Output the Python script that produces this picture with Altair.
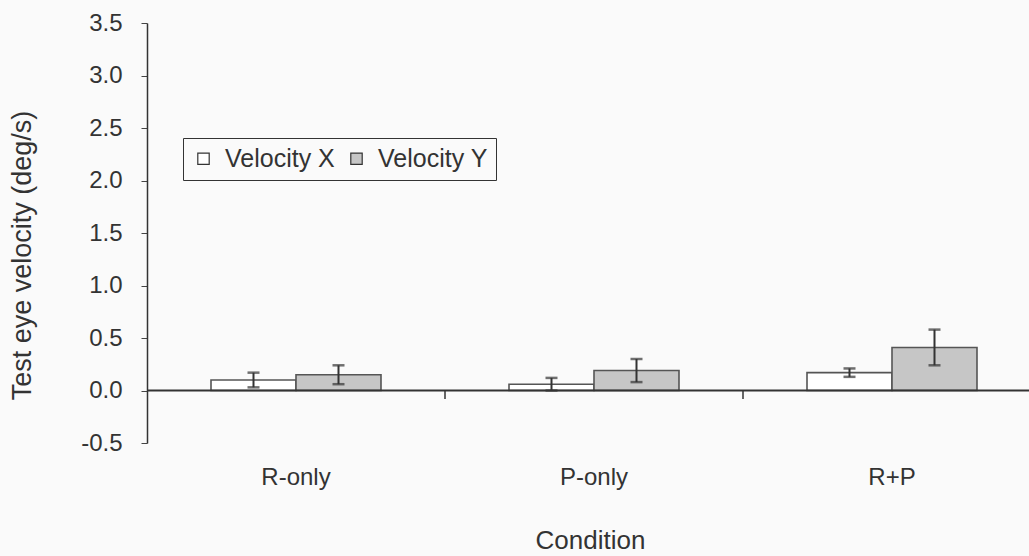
import altair as alt
import pandas as pd

conditions = ["R-only", "P-only", "R+P"]
series = ["Velocity X", "Velocity Y"]
vel_x = [0.10, 0.06, 0.17]
vel_x_err = [0.07, 0.06, 0.04]
vel_y = [0.15, 0.19, 0.41]
vel_y_err = [0.09, 0.11, 0.17]
boundaries = ["P-only", "R+P"]
y_ticks = [-0.5, 0.0, 0.5, 1.0, 1.5, 2.0, 2.5, 3.0, 3.5]

rows = []
for i, c in enumerate(conditions):
    rows.append({"cond": c, "series": series[0], "v": vel_x[i],
                 "lo": vel_x[i] - vel_x_err[i], "hi": vel_x[i] + vel_x_err[i]})
    rows.append({"cond": c, "series": series[1], "v": vel_y[i],
                 "lo": vel_y[i] - vel_y_err[i], "hi": vel_y[i] + vel_y_err[i]})
df = pd.DataFrame(rows)
bdf = pd.DataFrame({"cond": boundaries, "top": [0.0] * len(boundaries), "bot": [-0.08] * len(boundaries)})

FONT = "Liberation Sans"
TXT = "#333333"

xscale = alt.Scale(domain=conditions, range=[0, 894], paddingInner=0, paddingOuter=0)
yscale = alt.Scale(domain=[-0.5, 3.5], nice=False, zero=False)
xoff = alt.XOffset("series:N", sort=series,
                   scale=alt.Scale(domain=series, paddingInner=0, paddingOuter=0.753))

x_enc = alt.X("cond:N", sort=conditions, scale=xscale,
              axis=alt.Axis(title="Condition", domain=False, ticks=False, labelAngle=0,
                            labelFontSize=24, labelPadding=22, labelColor=TXT, labelFont=FONT,
                            titleFontSize=26, titleFont=FONT, titleColor=TXT, titleFontWeight="normal",
                            titleX=443, titleY=97, titleBaseline="middle"))

bars = alt.Chart(df).mark_bar(stroke="#555555", strokeWidth=1.6).encode(
    x=x_enc,
    xOffset=xoff,
    y=alt.Y("v:Q", scale=yscale,
            axis=alt.Axis(title="Test eye velocity (deg/s)", values=y_ticks, grid=False,
                          labelExpr="datum.value < 0 ? '-' + format(-datum.value, '.1f') : format(datum.value, '.1f')",
                          labelFontSize=24, labelFont=FONT, labelColor=TXT, labelPadding=19,
                          tickSize=6, tickColor="#444444", domainColor="#333333", domainWidth=1.5,
                          titleFontSize=27, titleFont=FONT, titleColor=TXT, titleFontWeight="normal",
                          titleX=-125, titleY=232, titleAngle=-90, titleAlign="center",
                          titleBaseline="middle")),
    y2=alt.datum(0),
    fill=alt.Fill("series:N", sort=series,
                  scale=alt.Scale(domain=series, range=["#ffffff", "#c6c6c6"]),
                  legend=alt.Legend(title=None, orient="none", legendX=36, legendY=115,
                                    direction="horizontal", strokeColor="#333333",
                                    fillColor="#fafafa", padding=8,
                                    symbolType="square", symbolSize=130,
                                    symbolStrokeColor="#333333", symbolStrokeWidth=1.2,
                                    labelFontSize=25, labelFont=FONT, labelColor=TXT,
                                    labelOffset=9, columnPadding=9)),
)

err = alt.Chart(df).mark_rule(color="#333333", strokeWidth=2).encode(
    x=alt.X("cond:N", sort=conditions, scale=xscale),
    xOffset=xoff,
    y=alt.Y("lo:Q", scale=yscale),
    y2="hi:Q",
)
cap_hi = alt.Chart(df).mark_tick(color="#333333", size=12, thickness=2.5).encode(
    x=alt.X("cond:N", sort=conditions, scale=xscale),
    xOffset=xoff,
    y=alt.Y("hi:Q", scale=yscale),
)
cap_lo = alt.Chart(df).mark_tick(color="#333333", size=12, thickness=2.5).encode(
    x=alt.X("cond:N", sort=conditions, scale=xscale),
    xOffset=xoff,
    y=alt.Y("lo:Q", scale=yscale),
)

zero_line = alt.Chart(pd.DataFrame({"z": [0.0]})).mark_rule(color="#333333", strokeWidth=1.8).encode(
    y=alt.Y("z:Q", scale=yscale)
)
bticks = alt.Chart(bdf).mark_rule(color="#333333", strokeWidth=1.5).encode(
    x=alt.X("cond:N", sort=conditions, scale=xscale, bandPosition=0),
    y=alt.Y("top:Q", scale=yscale),
    y2="bot:Q",
)

chart = alt.layer(bars, zero_line, bticks, err, cap_hi, cap_lo).properties(
    width=882, height=420,
    autosize=alt.AutoSizeParams(type="none"),
    padding={"left": 147, "top": 23, "right": 0, "bottom": 113},
    background="#fafafa",
).configure_view(stroke=None)

chart.save("out.html", embed_options={"renderer": "svg", "actions": False})
